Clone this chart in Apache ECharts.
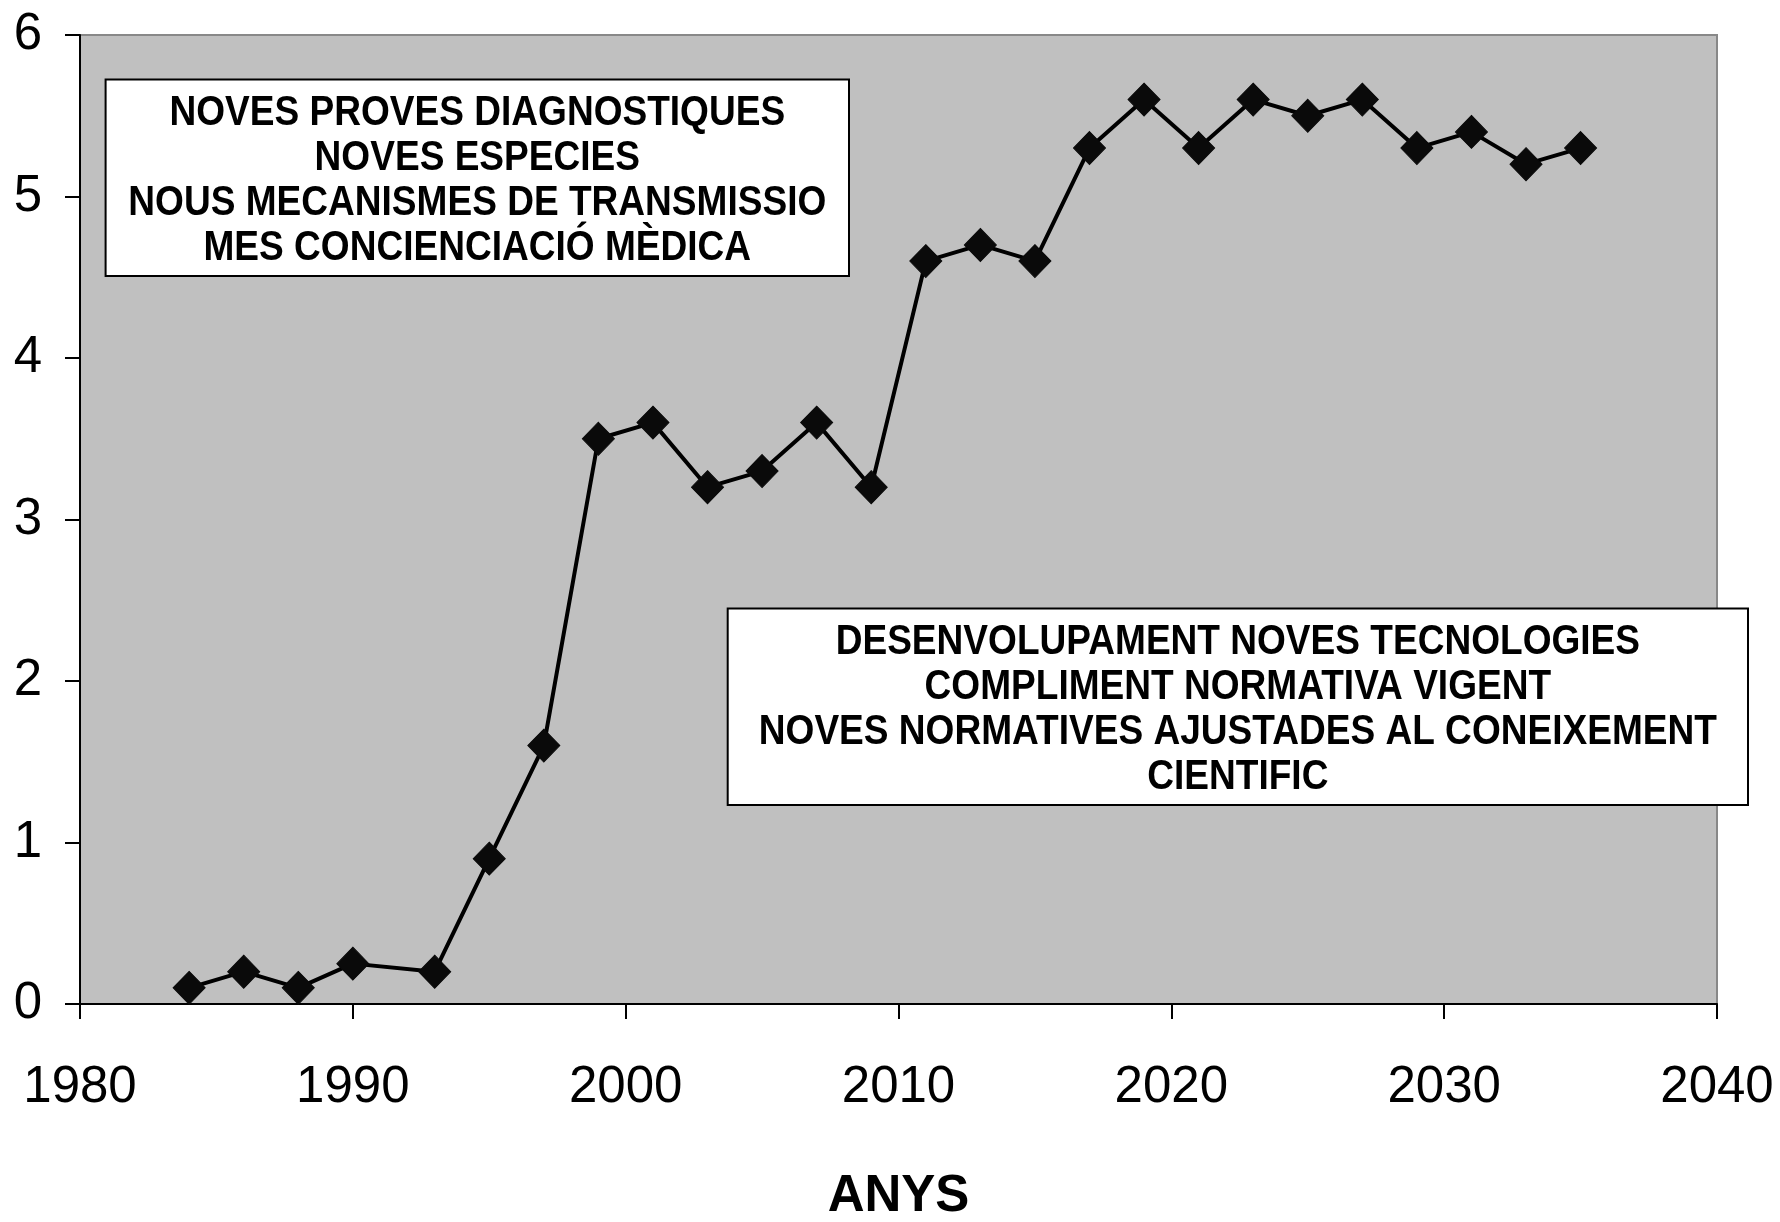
<!DOCTYPE html>
<html>
<head>
<meta charset="utf-8">
<script src="https://cdn.jsdelivr.net/npm/echarts@6/dist/echarts.min.js"></script>
<style>
html,body{margin:0;padding:0;background:#fff;}
#chart{width:1780px;height:1222px;}
</style>
</head>
<body>
<div id="chart"></div>
<script>
const years = [1984,1986,1988,1990,1993,1995,1997,1999,2001,2003,2005,2007,2009,2011,2013,2015,2017,2019,2021,2023,2025,2027,2029,2031,2033,2035];
const values = [0.1,0.2,0.1,0.25,0.2,0.9,1.6,3.5,3.6,3.2,3.3,3.6,3.2,4.6,4.7,4.6,5.3,5.6,5.3,5.6,5.5,5.6,5.3,5.4,5.2,5.3];
const xTicks = [1980,1990,2000,2010,2020,2030,2040];
const yTicks = [0,1,2,3,4,5,6];
const xAxisName = 'ANYS';
const box1Lines = ['NOVES PROVES DIAGNOSTIQUES','NOVES ESPECIES','NOUS MECANISMES DE TRANSMISSIO','MES CONCIENCIACIÓ MÈDICA'];
const box2Lines = ['DESENVOLUPAMENT NOVES TECNOLOGIES','COMPLIMENT NORMATIVA VIGENT','NOVES NORMATIVES AJUSTADES AL CONEIXEMENT','CIENTIFIC'];

const FONT = "'Liberation Sans', Arial, sans-serif";
const chart = echarts.init(document.getElementById('chart'), null, {renderer:'canvas'});

function box(x, y, w, h, lines) {
  return {
    type: 'group',
    children: [
      { type:'rect', shape:{x:x, y:y, width:w, height:h},
        style:{fill:'#ffffff', stroke:'#000000', lineWidth:2}, z:10 },
      { type:'text', x: x + w/2, y: y + h/2 + 3, scaleX: 0.87, z:11,
        style:{ text: lines.join('\n'), x:0, y:0, align:'center', verticalAlign:'middle',
          font: "bold 42.6px " + FONT, fill:'#000', lineHeight: 44.7 } }
    ]
  };
}

chart.setOption({
  animation: false,
  backgroundColor: '#ffffff',
  grid: { left: 80, right: 63, top: 35, bottom: 218, show: true,
    backgroundColor: '#c0c0c0', borderColor: '#888888', borderWidth: 2,
    containLabel: false, outerBoundsMode: 'none' },
  xAxis: {
    type: 'value', min: xTicks[0], max: xTicks[xTicks.length-1], interval: 10,
    name: xAxisName, nameLocation: 'middle', nameGap: 167,
    nameTextStyle: { fontFamily: FONT, fontWeight: 'bold', fontSize: 51, color: '#000' },
    axisLine: { show: true, onZero: false, lineStyle: { color: '#000', width: 2 } },
    axisTick: { show: true, inside: false, length: 15, lineStyle: { color: '#000', width: 2 } },
    axisLabel: { margin: 58, fontFamily: FONT, fontSize: 51, color: '#000', formatter: v => String(v) },
    splitLine: { show: false }
  },
  yAxis: {
    type: 'value', min: yTicks[0], max: yTicks[yTicks.length-1], interval: 1,
    axisLine: { show: true, lineStyle: { color: '#000', width: 2 } },
    axisTick: { show: true, inside: false, length: 15, lineStyle: { color: '#000', width: 2 } },
    axisLabel: { margin: 38, fontFamily: FONT, fontSize: 51, color: '#000' },
    splitLine: { show: false }
  },
  series: [{
    type: 'line',
    data: years.map((y, i) => [y, values[i]]),
    symbol: 'diamond', symbolSize: [32, 33],
    lineStyle: { color: '#000', width: 4 },
    itemStyle: { color: '#0a0a0a', borderColor: '#0a0a0a' },
    z: 5
  }],
  graphic: [
    box(105.6, 79.5, 743.4, 196.5, box1Lines),
    box(727.7, 608.5, 1020.3, 196.5, box2Lines)
  ]
});
</script>
</body>
</html>
